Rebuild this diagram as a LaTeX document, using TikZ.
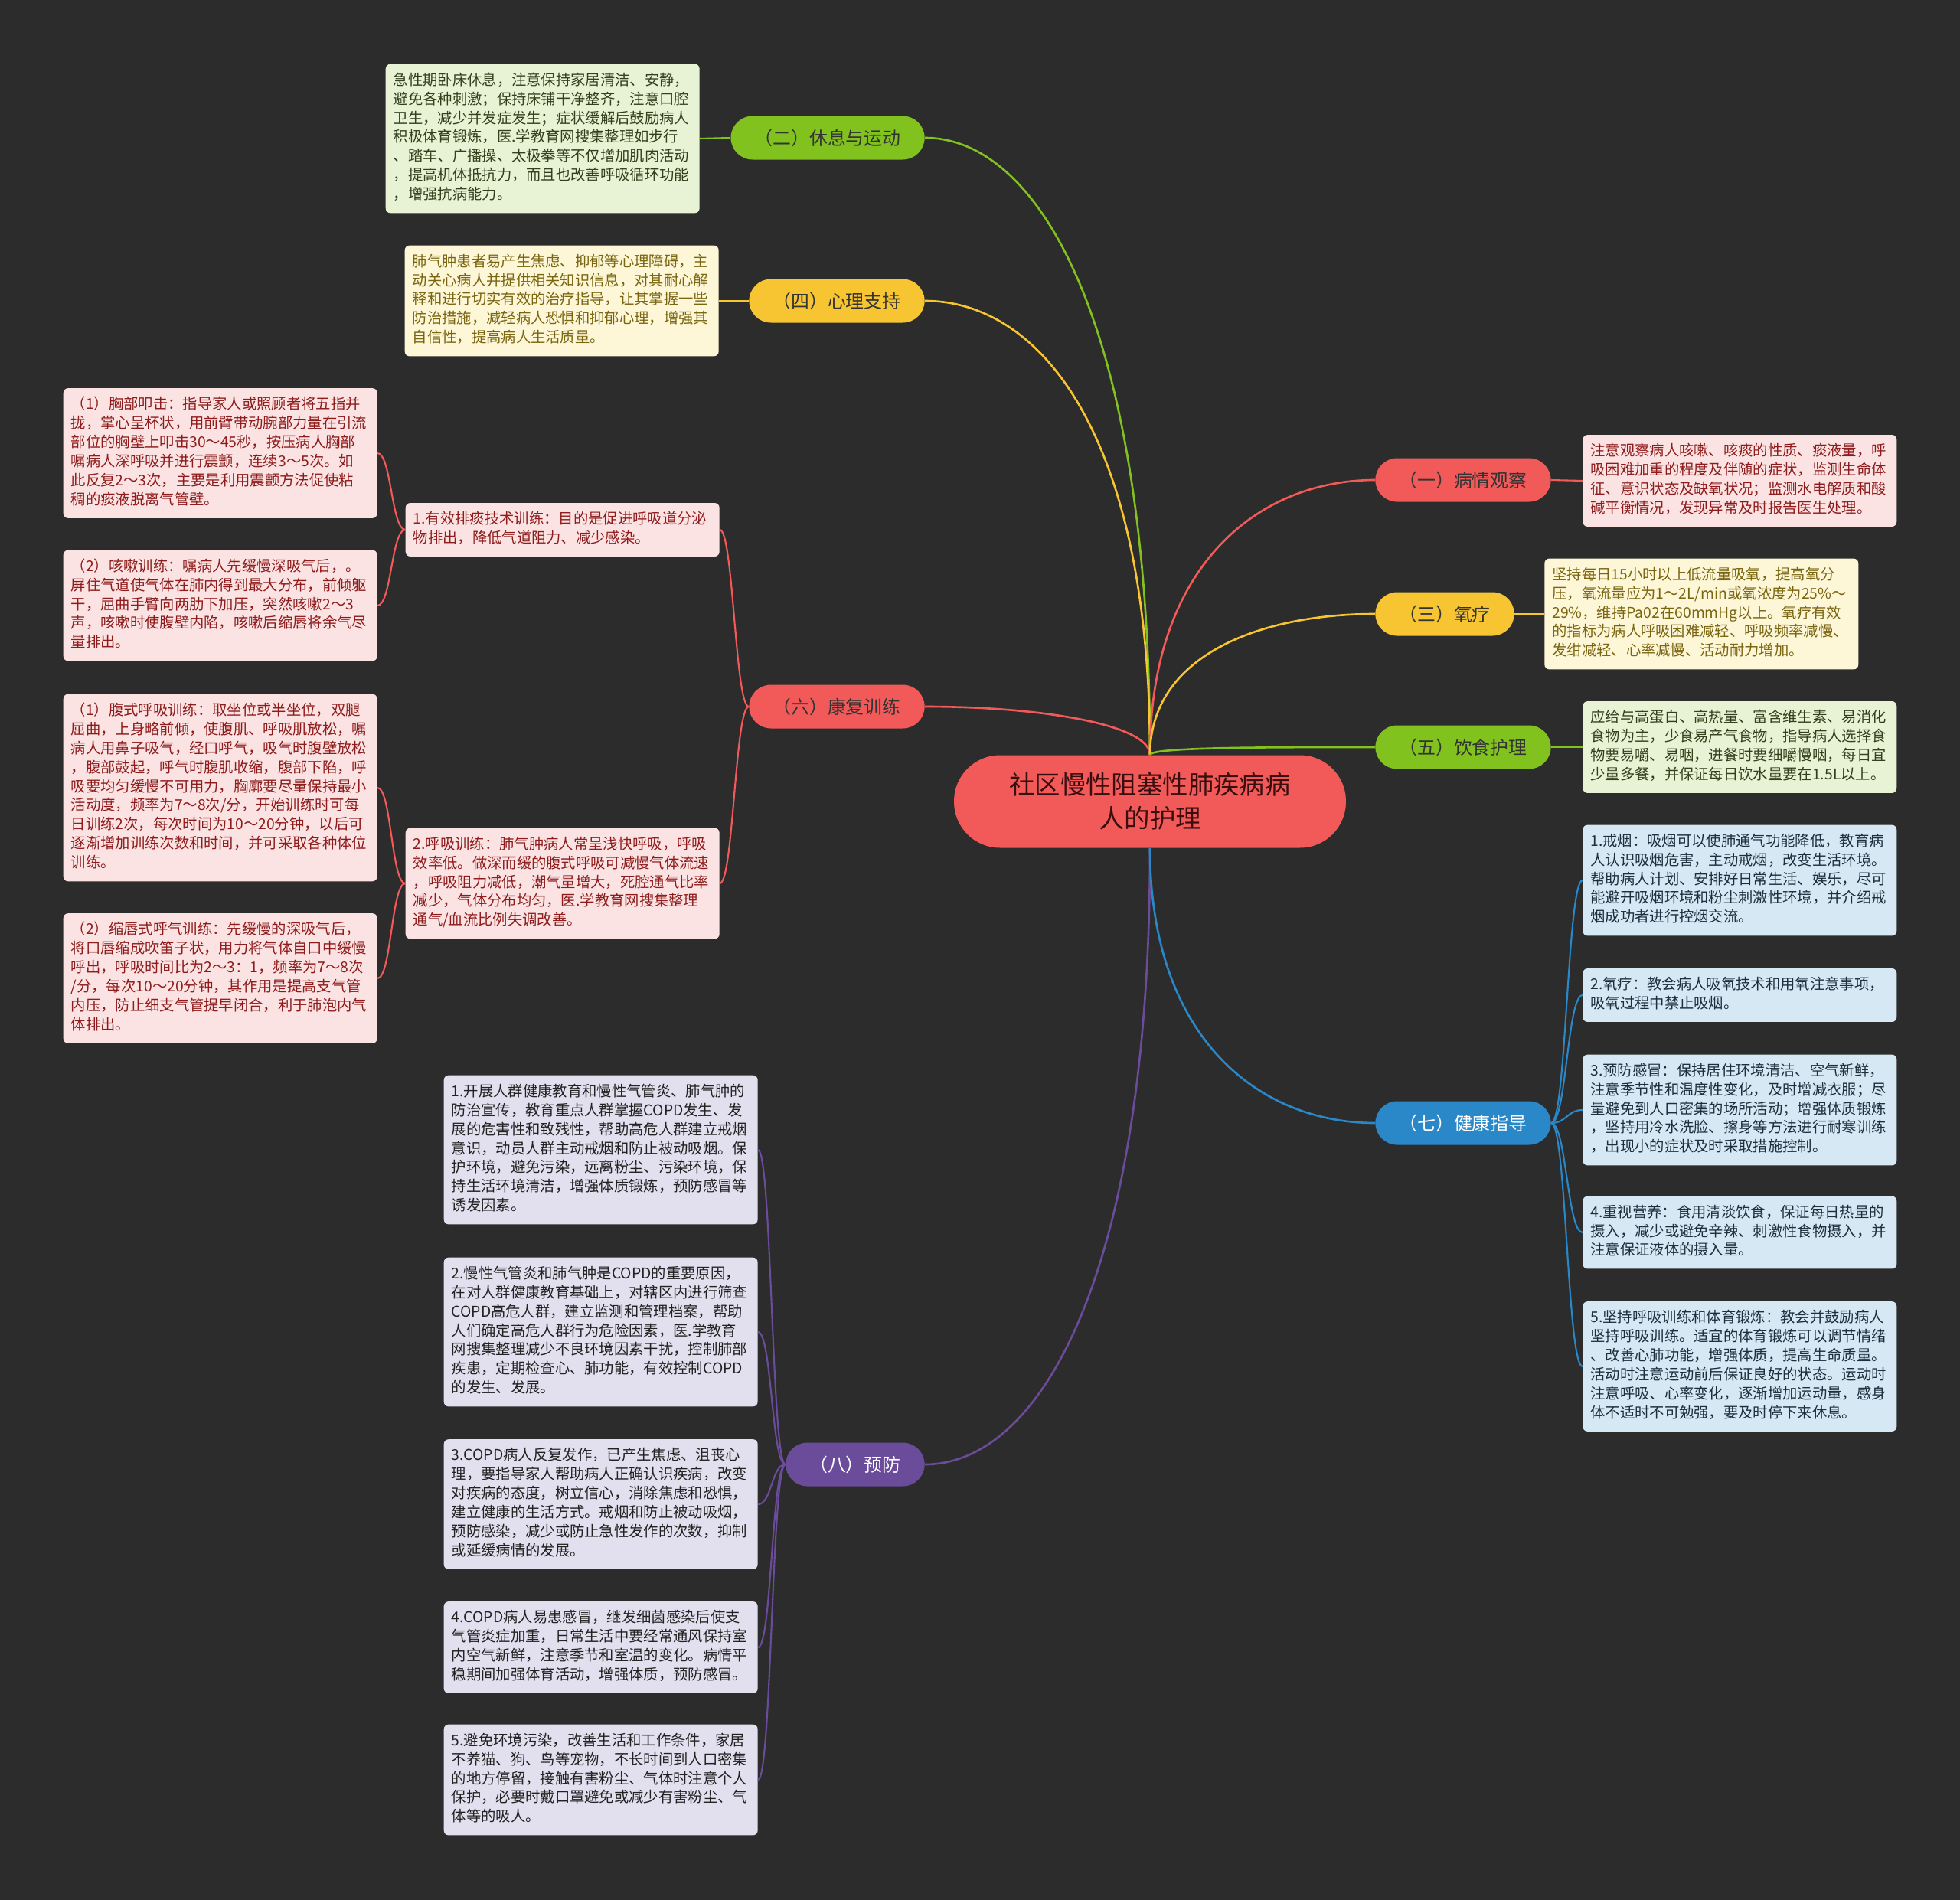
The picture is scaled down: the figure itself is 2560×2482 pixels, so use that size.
\documentclass[tikz,border=0pt]{standalone}
\usepackage{fontspec}
\setmainfont{Noto Sans CJK SC}
\usepackage{tikz}
\definecolor{Canvas}{HTML}{2C2C2C}
\definecolor{GreenB}{HTML}{82C21F}
\definecolor{GreenSoft}{HTML}{E8F3D6}
\definecolor{GreenInk}{HTML}{34401C}
\definecolor{YellowB}{HTML}{F7C531}
\definecolor{YellowSoft}{HTML}{FDF7D8}
\definecolor{YellowInk}{HTML}{7A6510}
\definecolor{RedB}{HTML}{F25A5A}
\definecolor{RedSoft}{HTML}{FCE3E3}
\definecolor{RedInk}{HTML}{8E1C1C}
\definecolor{BlueB}{HTML}{2A87C8}
\definecolor{BlueSoft}{HTML}{D5E8F4}
\definecolor{BlueInk}{HTML}{1E2E3C}
\definecolor{PurpleB}{HTML}{6B4C9A}
\definecolor{PurpleSoft}{HTML}{E2DFEE}
\definecolor{PurpleInk}{HTML}{222222}
\definecolor{RootInk}{HTML}{3A0E0E}
\tikzset{
  root/.style={fill=RedB,text=RootInk,rounded corners=1.2cm,minimum width=10.24cm,minimum height=2.42cm,align=center,font=\fontsize{19pt}{25pt}\selectfont},
  topic/.style={rounded corners=0.57cm,minimum height=1.14cm,inner xsep=0.62cm,inner ysep=0pt,text=black!80,font=\fontsize{13.6pt}{16pt}\selectfont},
  note/.style={rounded corners=3.5pt,inner sep=0.2cm,text width=7.8cm,align=left,font=\fontsize{11pt}{14.2pt}\selectfont,execute at begin node=\strut,execute at end node=\strut},
  notegreen/.style={note,fill=GreenSoft,text=GreenInk},
  noteyellow/.style={note,fill=YellowSoft,text=YellowInk},
  notered/.style={note,fill=RedSoft,text=RedInk},
  noteblue/.style={note,fill=BlueSoft,text=BlueInk},
  notepurple/.style={note,fill=PurpleSoft,text=PurpleInk},
  link/.style={line width=1.5pt},
  twig/.style={line width=1.2pt}
}

\begin{document}
\begin{tikzpicture}[x=0.02cm,y=-0.02cm]
  \useasboundingbox (0,0) rectangle (2560,2482);
  \fill[Canvas] (0,0) rectangle (2560,2482);

  \node[root] (root) at (1502,1047) {社区慢性阻塞性肺疾病病\\人的护理};

  \node[topic,fill=GreenB,anchor=east] (rest) at (1208,180) {（二）休息与运动};
  \node[topic,fill=YellowB,anchor=east] (mind) at (1208,393) {（四）心理支持};
  \node[topic,fill=RedB,anchor=east] (rehab) at (1208,923) {（六）康复训练};
  \node[topic,fill=PurpleB,text=white,anchor=east] (prevent) at (1208,1913) {（八）预防};
  \node[topic,fill=RedB,anchor=west] (observe) at (1796,627) {（一）病情观察};
  \node[topic,fill=YellowB,anchor=west] (oxygen) at (1796,802) {（三）氧疗};
  \node[topic,fill=GreenB,anchor=west] (diet) at (1796,976) {（五）饮食护理};
  \node[topic,fill=BlueB,text=white,anchor=west] (guide) at (1796,1467) {（七）健康指导};

  \node[notegreen,anchor=east] (restTxt) at (914,181) {急性期卧床休息，注意保持家居清洁、安静，\\避免各种刺激；保持床铺干净整齐，注意口腔\\卫生，减少并发症发生；症状缓解后鼓励病人\\积极体育锻炼，医.学教育网搜集整理如步行\\、踏车、广播操、太极拳等不仅增加肌肉活动\\，提高机体抵抗力，而且也改善呼吸循环功能\\，增强抗病能力。};
  \node[noteyellow,anchor=east] (mindTxt) at (939,393) {肺气肿患者易产生焦虑、抑郁等心理障碍，主\\动关心病人并提供相关知识信息，对其耐心解\\释和进行切实有效的治疗指导，让其掌握一些\\防治措施，减轻病人恐惧和抑郁心理，增强其\\自信性，提高病人生活质量。};

  \node[notered,anchor=east] (rehabA) at (940,692) {1.有效排痰技术训练：目的是促进呼吸道分泌\\物排出，降低气道阻力、减少感染。};
  \node[notered,anchor=east] (rehabB) at (940,1154) {2.呼吸训练：肺气肿病人常呈浅快呼吸，呼吸\\效率低。做深而缓的腹式呼吸可减慢气体流速\\，呼吸阻力减低，潮气量增大，死腔通气比率\\减少，气体分布均匀，医.学教育网搜集整理\\通气/血流比例失调改善。};
  \node[notered,anchor=east] (rehabA1) at (493,592) {（1）胸部叩击：指导家人或照顾者将五指并\\拢，掌心呈杯状，用前臂带动腕部力量在引流\\部位的胸壁上叩击30～45秒，按压病人胸部\\嘱病人深呼吸并进行震颤，连续3～5次。如\\此反复2～3次，主要是利用震颤方法促使粘\\稠的痰液脱离气管壁。};
  \node[notered,anchor=east] (rehabA2) at (493,791) {（2）咳嗽训练：嘱病人先缓慢深吸气后，。\\屏住气道使气体在肺内得到最大分布，前倾躯\\干，屈曲手臂向两肋下加压，突然咳嗽2～3\\声，咳嗽时使腹壁内陷，咳嗽后缩唇将余气尽\\量排出。};
  \node[notered,anchor=east] (rehabB1) at (493,1029) {（1）腹式呼吸训练：取坐位或半坐位，双腿\\屈曲，上身略前倾，使腹肌、呼吸肌放松，嘱\\病人用鼻子吸气，经口呼气，吸气时腹壁放松\\，腹部鼓起，呼气时腹肌收缩，腹部下陷，呼\\吸要均匀缓慢不可用力，胸廓要尽量保持最小\\活动度，频率为7～8次/分，开始训练时可每\\日训练2次，每次时间为10～20分钟，以后可\\逐渐增加训练次数和时间，并可采取各种体位\\训练。};
  \node[notered,anchor=east] (rehabB2) at (493,1278) {（2）缩唇式呼气训练：先缓慢的深吸气后，\\将口唇缩成吹笛子状，用力将气体自口中缓慢\\呼出，呼吸时间比为2～3：1，频率为7～8次\\/分，每次10～20分钟，其作用是提高支气管\\内压，防止细支气管提早闭合，利于肺泡内气\\体排出。};

  \node[notered,anchor=west] (obsTxt) at (2067,628) {注意观察病人咳嗽、咳痰的性质、痰液量，呼\\吸困难加重的程度及伴随的症状，监测生命体\\征、意识状态及缺氧状况；监测水电解质和酸\\碱平衡情况，发现异常及时报告医生处理。};
  \node[noteyellow,anchor=west] (oxyTxt) at (2017,802) {坚持每日15小时以上低流量吸氧，提高氧分\\压，氧流量应为1～2L/min或氧浓度为25\%～\\29\%，维持Pa02在60mmHg以上。氧疗有效\\的指标为病人呼吸困难减轻、呼吸频率减慢、\\发绀减轻、心率减慢、活动耐力增加。};
  \node[notegreen,anchor=west] (dietTxt) at (2067,976) {应给与高蛋白、高热量、富含维生素、易消化\\食物为主，少食易产气食物，指导病人选择食\\物要易嚼、易咽，进餐时要细嚼慢咽，每日宜\\少量多餐，并保证每日饮水量要在1.5L以上。};

  \node[noteblue,anchor=west] (guide1) at (2067,1150) {1.戒烟：吸烟可以使肺通气功能降低，教育病\\人认识吸烟危害，主动戒烟，改变生活环境。\\帮助病人计划、安排好日常生活、娱乐，尽可\\能避开吸烟环境和粉尘刺激性环境，并介绍戒\\烟成功者进行控烟交流。};
  \node[noteblue,anchor=west] (guide2) at (2067,1300) {2.氧疗：教会病人吸氧技术和用氧注意事项，\\吸氧过程中禁止吸烟。};
  \node[noteblue,anchor=west] (guide3) at (2067,1450) {3.预防感冒：保持居住环境清洁、空气新鲜，\\注意季节性和温度性变化，及时增减衣服；尽\\量避免到人口密集的场所活动；增强体质锻炼\\，坚持用冷水洗脸、擦身等方法进行耐寒训练\\，出现小的症状及时采取措施控制。};
  \node[noteblue,anchor=west] (guide4) at (2067,1610) {4.重视营养：食用清淡饮食，保证每日热量的\\摄入，减少或避免辛辣、刺激性食物摄入，并\\注意保证液体的摄入量。};
  \node[noteblue,anchor=west] (guide5) at (2067,1785) {5.坚持呼吸训练和体育锻炼：教会并鼓励病人\\坚持呼吸训练。适宜的体育锻炼可以调节情绪\\、改善心肺功能，增强体质，提高生命质量。\\活动时注意运动前后保证良好的状态。运动时\\注意呼吸、心率变化，逐渐增加运动量，感身\\体不适时不可勉强，要及时停下来休息。};

  \node[notepurple,anchor=east] (prev1) at (990,1502) {1.开展人群健康教育和慢性气管炎、肺气肿的\\防治宣传，教育重点人群掌握COPD发生、发\\展的危害性和致残性，帮助高危人群建立戒烟\\意识，动员人群主动戒烟和防止被动吸烟。保\\护环境，避免污染，远离粉尘、污染环境，保\\持生活环境清洁，增强体质锻炼，预防感冒等\\诱发因素。};
  \node[notepurple,anchor=east] (prev2) at (990,1740) {2.慢性气管炎和肺气肿是COPD的重要原因，\\在对人群健康教育基础上，对辖区内进行筛查\\COPD高危人群，建立监测和管理档案，帮助\\人们确定高危人群行为危险因素，医.学教育\\网搜集整理减少不良环境因素干扰，控制肺部\\疾患，定期检查心、肺功能，有效控制COPD\\的发生、发展。};
  \node[notepurple,anchor=east] (prev3) at (990,1965) {3.COPD病人反复发作，已产生焦虑、沮丧心\\理，要指导家人帮助病人正确认识疾病，改变\\对疾病的态度，树立信心，消除焦虑和恐惧，\\建立健康的生活方式。戒烟和防止被动吸烟，\\预防感染，减少或防止急性发作的次数，抑制\\或延缓病情的发展。};
  \node[notepurple,anchor=east] (prev4) at (990,2152) {4.COPD病人易患感冒，继发细菌感染后使支\\气管炎症加重，日常生活中要经常通风保持室\\内空气新鲜，注意季节和室温的变化。病情平\\稳期间加强体育活动，增强体质，预防感冒。};
  \node[notepurple,anchor=east] (prev5) at (990,2325) {5.避免环境污染，改善生活和工作条件，家居\\不养猫、狗、鸟等宠物，不长时间到人口密集\\的地方停留，接触有害粉尘、气体时注意个人\\保护，必要时戴口罩避免或减少有害粉尘、气\\体等的吸人。};

  \draw[link,GreenB] (root.north) .. controls +(0,-560) and +(150,0) .. (rest.east);
  \draw[link,YellowB] (root.north) .. controls +(0,-420) and +(150,0) .. (mind.east);
  \draw[link,RedB] (root.north) .. controls +(0,-40) and +(150,0) .. (rehab.east);
  \draw[link,PurpleB] (root.south) .. controls +(0,560) and +(150,0) .. (prevent.east);
  \draw[link,RedB] (root.north) .. controls +(0,-250) and +(-150,0) .. (observe.west);
  \draw[link,YellowB] (root.north) .. controls +(0,-130) and +(-150,0) .. (oxygen.west);
  \draw[link,GreenB] (root.north) .. controls +(0,-10) and +(-150,0) .. (diet.west);
  \draw[link,BlueB] (root.south) .. controls +(0,250) and +(-150,0) .. (guide.west);

  \draw[twig,GreenB] (rest.west) -- (restTxt.east);
  \draw[twig,YellowB] (mind.west) -- (mindTxt.east);
  \draw[twig,RedB] (observe.east) -- (obsTxt.west);
  \draw[twig,YellowB] (oxygen.east) -- (oxyTxt.west);
  \draw[twig,GreenB] (diet.east) -- (dietTxt.west);
  \foreach \k in {A,B}
    \draw[twig,RedB] (rehab.west) .. controls +(-18,0) and +(18,0) .. (rehab\k.east);
  \foreach \k in {1,2}{
    \draw[twig,RedB] (rehabA.west) .. controls +(-18,0) and +(18,0) .. (rehabA\k.east);
    \draw[twig,RedB] (rehabB.west) .. controls +(-18,0) and +(18,0) .. (rehabB\k.east);
  }
  \foreach \k in {1,...,5}{
    \draw[twig,BlueB] (guide.east) .. controls +(20,0) and +(-20,0) .. (guide\k.west);
    \draw[twig,PurpleB] (prevent.west) .. controls +(-18,0) and +(18,0) .. (prev\k.east);
  }
\end{tikzpicture}
\end{document}
